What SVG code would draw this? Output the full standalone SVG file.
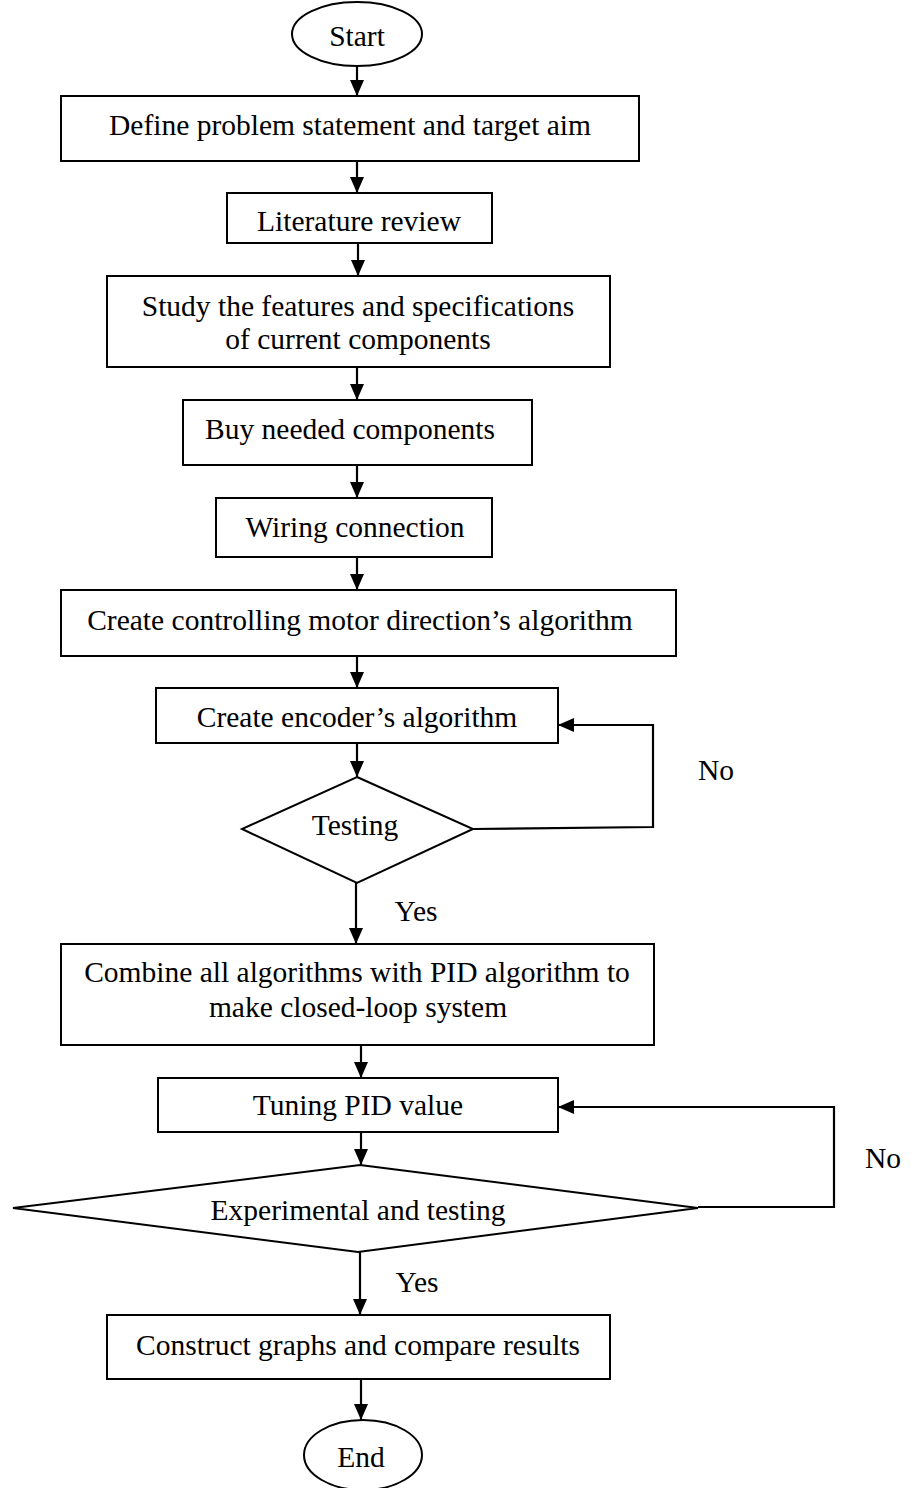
<svg xmlns="http://www.w3.org/2000/svg" width="911" height="1488" viewBox="0 0 911 1488">
<style>
.n{fill:#fff;stroke:#000;stroke-width:2}
.t{font-family:"Liberation Serif","Times New Roman",serif;font-size:29.5px;fill:#000;text-anchor:middle}
.c{fill:none;stroke:#000;stroke-width:2.2}
</style>
<defs>
<marker id="ah" markerUnits="userSpaceOnUse" markerWidth="16" markerHeight="14" refX="16" refY="7" orient="auto">
<path d="M0,0 L16,7 L0,14 z" fill="#000"/>
</marker>
</defs>
<rect width="911" height="1488" fill="#fff"/>
<g id="connectors">
<line class="c" x1="357" y1="66" x2="357" y2="96" marker-end="url(#ah)"/>
<line class="c" x1="357" y1="161" x2="357" y2="193" marker-end="url(#ah)"/>
<line class="c" x1="358" y1="243" x2="358" y2="276" marker-end="url(#ah)"/>
<line class="c" x1="357" y1="367" x2="357" y2="400" marker-end="url(#ah)"/>
<line class="c" x1="357" y1="465" x2="357" y2="498" marker-end="url(#ah)"/>
<line class="c" x1="357" y1="557" x2="357" y2="590" marker-end="url(#ah)"/>
<line class="c" x1="357" y1="656" x2="357" y2="688" marker-end="url(#ah)"/>
<line class="c" x1="357" y1="743" x2="357" y2="777" marker-end="url(#ah)"/>
<polyline class="c" points="473,829 653,827 653,725 558,725" marker-end="url(#ah)"/>
<line class="c" x1="356" y1="883" x2="356" y2="944" marker-end="url(#ah)"/>
<line class="c" x1="361" y1="1045" x2="361" y2="1078" marker-end="url(#ah)"/>
<line class="c" x1="361" y1="1132" x2="361" y2="1165" marker-end="url(#ah)"/>
<polyline class="c" points="698,1207 834,1207 834,1107 558,1107" marker-end="url(#ah)"/>
<line class="c" x1="360" y1="1252" x2="360" y2="1315" marker-end="url(#ah)"/>
<line class="c" x1="361" y1="1379" x2="361" y2="1420" marker-end="url(#ah)"/>
<text class="t" x="716" y="780">No</text>
<text class="t" x="416" y="921">Yes</text>
<text class="t" x="883" y="1168">No</text>
<text class="t" x="417" y="1292">Yes</text>
</g>
<g id="start">
<ellipse class="n" cx="357" cy="34" rx="65" ry="32"/>
<text class="t" x="357" y="46">Start</text>
</g>
<g id="define">
<rect class="n" x="61" y="96" width="578" height="65"/>
<text class="t" x="350" y="135">Define problem statement and target aim</text>
</g>
<g id="literature">
<rect class="n" x="227" y="193" width="265" height="50"/>
<text class="t" x="359" y="231">Literature review</text>
</g>
<g id="study">
<rect class="n" x="107" y="276" width="503" height="91"/>
<text class="t" x="358" y="316">Study the features and specifications</text>
<text class="t" x="358" y="349">of current components</text>
</g>
<g id="buy">
<rect class="n" x="183" y="400" width="349" height="65"/>
<text class="t" x="350" y="439">Buy needed components</text>
</g>
<g id="wiring">
<rect class="n" x="216" y="498" width="276" height="59"/>
<text class="t" x="355" y="537">Wiring connection</text>
</g>
<g id="motor">
<rect class="n" x="61" y="590" width="615" height="66"/>
<text class="t" x="360" y="630">Create controlling motor direction’s algorithm</text>
</g>
<g id="encoder">
<rect class="n" x="156" y="688" width="402" height="55"/>
<text class="t" x="357" y="727">Create encoder’s algorithm</text>
</g>
<g id="testing">
<polygon class="n" points="357,777 473,829 357,883 242,829"/>
<text class="t" x="355" y="835">Testing</text>
</g>
<g id="combine">
<rect class="n" x="61" y="944" width="593" height="101"/>
<text class="t" x="357" y="982">Combine all algorithms with PID algorithm to</text>
<text class="t" x="358" y="1017">make closed-loop system</text>
</g>
<g id="tuning">
<rect class="n" x="158" y="1078" width="400" height="54"/>
<text class="t" x="358" y="1115">Tuning PID value</text>
</g>
<g id="experimental">
<polygon class="n" points="360,1165 698,1208 358,1252 13,1208"/>
<text class="t" x="358" y="1220">Experimental and testing</text>
</g>
<g id="construct">
<rect class="n" x="107" y="1315" width="503" height="64"/>
<text class="t" x="358" y="1355">Construct graphs and compare results</text>
</g>
<g id="end">
<ellipse class="n" cx="363" cy="1455" rx="59" ry="35"/>
<text class="t" x="361" y="1467">End</text>
</g>
</svg>
